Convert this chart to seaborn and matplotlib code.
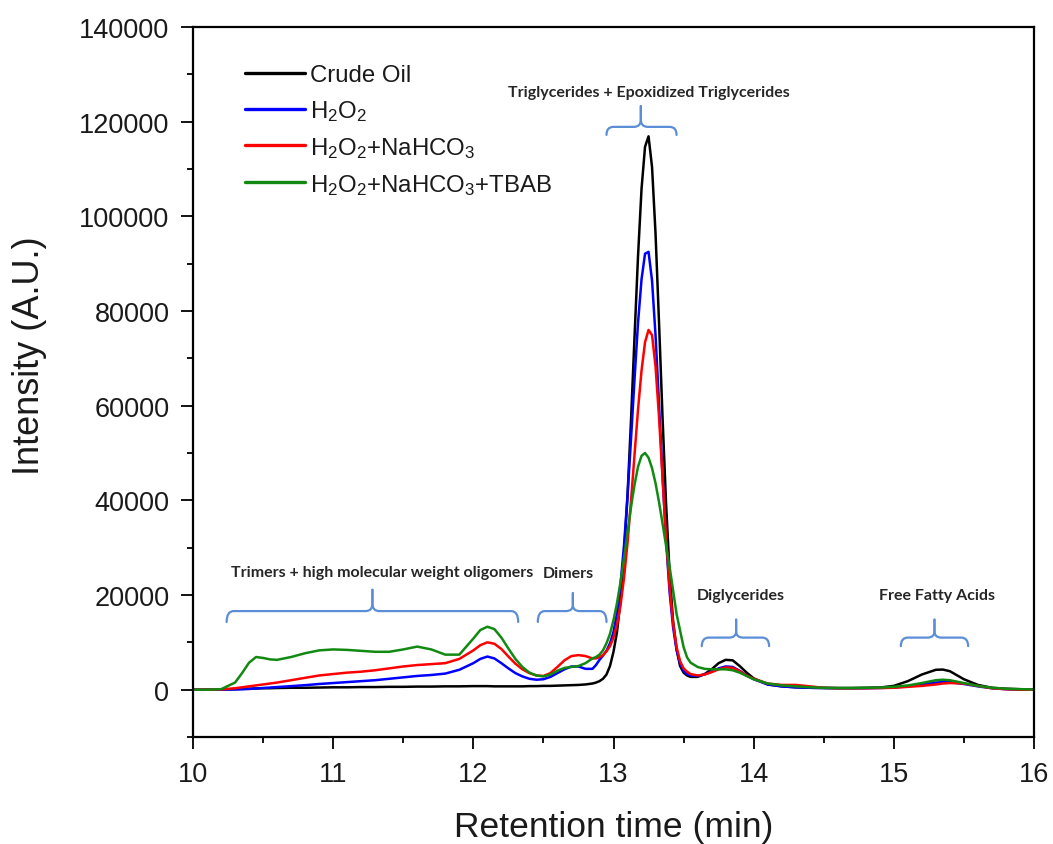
import numpy as np
import pandas as pd
import matplotlib
matplotlib.use("Agg")
import matplotlib.pyplot as plt
from matplotlib.path import Path
from matplotlib.patches import PathPatch
from matplotlib.ticker import MultipleLocator
import seaborn as sns

# ---------------- data ----------------
time_min = [
    10.0, 10.1, 10.2, 10.3, 10.35, 10.4, 10.45, 10.5, 10.55, 10.6,
    10.7, 10.8, 10.9, 11.0, 11.1, 11.2, 11.3, 11.4, 11.5, 11.6,
    11.7, 11.8, 11.9, 12.0, 12.05, 12.1, 12.15, 12.2, 12.25, 12.3,
    12.35, 12.4, 12.45, 12.5, 12.55, 12.6, 12.65, 12.7, 12.75, 12.8,
    12.85, 12.875, 12.9, 12.925, 12.95, 12.975, 13.0, 13.025, 13.05, 13.075,
    13.1, 13.125, 13.15, 13.175, 13.2, 13.225, 13.25, 13.275, 13.3, 13.325,
    13.35, 13.375, 13.4, 13.425, 13.45, 13.475, 13.5, 13.525, 13.55, 13.6,
    13.65, 13.7, 13.75, 13.8, 13.85, 13.9, 13.95, 14.0, 14.1, 14.2,
    14.3, 14.4, 14.5, 14.6, 14.7, 14.8, 14.9, 15.0, 15.1, 15.2,
    15.3, 15.35, 15.4, 15.5, 15.6, 15.7, 15.8, 15.9, 16.0,
]

crude_oil = [
    0, 0, 50, 100, 150, 200, 250, 300, 300, 350,
    400, 400, 450, 500, 500, 550, 550, 600, 600, 650,
    650, 700, 700, 750, 750, 750, 700, 700, 700, 700,
    700, 750, 750, 800, 800, 850, 900, 950, 1000, 1100,
    1300, 1500, 1800, 2300, 3200, 5000, 8000, 12200, 18800, 28500,
    41000, 57000, 74500, 91600, 105800, 114700, 116900, 110400, 96300, 77400,
    57400, 39300, 24800, 14500, 8500, 5000, 3600, 3000, 2700, 2700,
    3300, 4300, 5600, 6300, 6200, 5000, 3600, 2400, 1100, 700,
    500, 400, 350, 350, 350, 400, 450, 800, 1800, 3200,
    4200, 4250, 3900, 2200, 1000, 400, 200, 100, 50,
]

h2o2 = [
    0, 0, 0, 50, 100, 150, 250, 350, 450, 550,
    750, 950, 1200, 1400, 1600, 1800, 2000, 2300, 2600, 2900,
    3100, 3400, 4200, 5600, 6500, 7000, 6600, 5600, 4500, 3500,
    2800, 2300, 2100, 2200, 2700, 3500, 4300, 4900, 4900, 4400,
    4400, 5200, 6300, 7200, 8200, 9800, 12200, 16200, 22200, 30500,
    40900, 53000, 65600, 77500, 86700, 92100, 92500, 86400, 74800, 60200,
    45100, 31600, 20700, 13200, 8400, 5500, 4000, 3300, 3000, 2900,
    3200, 3800, 4500, 4900, 4800, 4000, 3000, 2200, 1100, 700,
    500, 400, 350, 300, 300, 300, 350, 450, 700, 1100,
    1500, 1600, 1600, 1200, 700, 300, 100, 0, 0,
]

h2o2_nahco3 = [
    0, 0, 50, 300, 500, 700, 900, 1100, 1300, 1500,
    2000, 2500, 3000, 3300, 3600, 3800, 4100, 4500, 4900, 5200,
    5400, 5600, 6500, 8300, 9400, 10000, 9700, 8600, 7000, 5500,
    4300, 3500, 3000, 2900, 3500, 4800, 6200, 7100, 7300, 7100,
    6600, 6600, 6900, 7300, 8100, 9200, 11000, 13700, 17800, 23600,
    31000, 39900, 49600, 59200, 67400, 73400, 76000, 74900, 68300, 57500,
    44700, 32200, 21800, 14100, 9000, 6000, 4500, 3800, 3300, 3000,
    3200, 3700, 4300, 4700, 4600, 3900, 3000, 2300, 1300, 1000,
    1000, 700, 400, 300, 300, 300, 350, 400, 600, 800,
    1100, 1300, 1400, 1300, 800, 300, 100, 0, 0,
]

h2o2_nahco3_tbab = [
    0, 0, 100, 1500, 3500, 5700, 6900, 6700, 6400, 6300,
    6900, 7700, 8300, 8500, 8400, 8200, 8000, 8000, 8500, 9100,
    8500, 7400, 7400, 10800, 12600, 13300, 12800, 11000, 8700, 6500,
    4800, 3600, 3000, 2800, 3200, 4000, 4600, 4800, 5000, 5600,
    6600, 6900, 7400, 8300, 9800, 11800, 14700, 18300, 22700, 27800,
    33200, 38600, 43300, 47100, 49400, 50000, 49000, 46800, 43600, 39600,
    35100, 30400, 26000, 21000, 16000, 12500, 9000, 6800, 5700, 4800,
    4400, 4300, 4300, 4300, 4100, 3600, 2900, 2200, 1300, 900,
    700, 500, 400, 350, 350, 400, 450, 600, 900, 1400,
    2000, 2100, 2000, 1400, 800, 400, 200, 100, 50,
]

series_names = ["Crude Oil", "H2O2", "H2O2+NaHCO3", "H2O2+NaHCO3+TBAB"]
legend_labels = ["Crude Oil", "H$_2$O$_2$", "H$_2$O$_2$+NaHCO$_3$",
                 "H$_2$O$_2$+NaHCO$_3$+TBAB"]
series_colors = ["#000000", "#0000FF", "#FF0000", "#128A12"]

y_ticks = [0, 20000, 40000, 60000, 80000, 100000, 120000, 140000]
x_ticks = [10, 11, 12, 13, 14, 15, 16]

# annotation groups: label, text x, text y, brace x-start, x-end, x-centre, tip y, line y, top y
ann_labels = ["Trimers + high molecular weight oligomers", "Dimers",
              "Triglycerides + Epoxidized Triglycerides", "Diglycerides",
              "Free Fatty Acids"]
ann_text_x = [11.35, 12.68, 13.25, 13.91, 15.31]
ann_text_y = [24800, 24600, 126200, 19900, 19900]
brace_x0 = [10.24, 12.46, 12.95, 13.63, 15.05]
brace_x1 = [12.32, 12.95, 13.45, 14.11, 15.53]
brace_xc = [11.28, 12.71, 13.195, 13.875, 15.29]
brace_ytip = [14300, 14300, 117200, 9200, 9200]
brace_yline = [16600, 16600, 118900, 11000, 11000]
brace_ytop = [21100, 20400, 123300, 14800, 14800]

# ---------------- build frame ----------------
frames = []
for name, vals in zip(series_names,
                      [crude_oil, h2o2, h2o2_nahco3, h2o2_nahco3_tbab]):
    frames.append(pd.DataFrame({"time": time_min, "intensity": vals,
                                "sample": name}))
df = pd.concat(frames, ignore_index=True)

# ---------------- style ----------------
sns.set_theme(style="ticks")
plt.rcParams["font.family"] = ["Liberation Sans", "DejaVu Sans"]
plt.rcParams["mathtext.default"] = "regular"

fig = plt.figure(figsize=(10.53, 8.45), dpi=100)
W, H = 1053, 845
ax = fig.add_axes([193 / W, 1 - 738 / H, (1034 - 193) / W, (738 - 28) / H])

sns.lineplot(data=df, x="time", y="intensity", hue="sample",
             hue_order=series_names,
             palette=dict(zip(series_names, series_colors)),
             estimator=None, sort=False, linewidth=1.8, legend=False, ax=ax)

ax.set_xlim(10, 16)
ax.set_ylim(-10000, 140000)
ax.set_xticks(x_ticks)
ax.set_yticks(y_ticks)
ax.set_xticklabels([str(v) for v in x_ticks])
ax.set_yticklabels([str(v) for v in y_ticks])
ax.xaxis.set_minor_locator(MultipleLocator(0.5))
ax.yaxis.set_minor_locator(MultipleLocator(10000))
ax.tick_params(which="major", direction="out", length=8.5, width=1.3,
               labelsize=19.5, pad=8.5, color="black", labelcolor="#1a1a1a")
ax.tick_params(which="minor", direction="out", length=4.2, width=1.3,
               color="black")
ax.tick_params(axis="x", which="both", top=False)
ax.tick_params(axis="y", which="both", right=False)
for s in ax.spines.values():
    s.set_visible(True)
    s.set_linewidth(1.6)
    s.set_color("black")

ax.set_xlabel("Retention time (min)", fontsize=25.5, color="#1a1a1a",
              labelpad=17)
ax.set_ylabel("Intensity (A.U.)", fontsize=26, color="#1a1a1a")
ax.yaxis.set_label_coords(-0.174, 0.538)

# legend
handles = ax.get_lines()[:4]
leg = ax.legend(handles, legend_labels, loc="upper left",
                bbox_to_anchor=(0.062, 0.948), frameon=False, fontsize=17.3,
                handlelength=2.5, handletextpad=0.2, labelspacing=0.5,
                borderpad=0.0, borderaxespad=0.0)
for lh in leg.get_lines():
    lh.set_linewidth(2.4)
for t in leg.get_texts():
    t.set_color("#1a1a1a")

# braces & labels
brace_color = "#5B8ED6"
dx = 0.05
for i in range(len(ann_labels)):
    x0, x1, xc = brace_x0[i], brace_x1[i], brace_xc[i]
    yt, yl, ytop = brace_ytip[i], brace_yline[i], brace_ytop[i]
    dy = (ytop - yl) * 0.35
    for xe, sgn in ((x0, 1), (x1, -1)):
        verts = [(xe, yt), (xe, yl), (xe + sgn * dx, yl),
                 (xc - sgn * dx, yl), (xc, yl), (xc, yl + dy), (xc, ytop)]
        codes = [Path.MOVETO, Path.CURVE3, Path.CURVE3, Path.LINETO,
                 Path.CURVE3, Path.CURVE3, Path.LINETO]
        ax.add_patch(PathPatch(Path(verts, codes), facecolor="none",
                               edgecolor=brace_color, linewidth=1.6,
                               capstyle="round", joinstyle="round"))
    ax.text(ann_text_x[i], ann_text_y[i], ann_labels[i], ha="center",
            va="center", fontsize=11.5, fontweight="bold",
            family=["Lato", "DejaVu Sans"], color="#262626")

fig.savefig("out.png", dpi=100)
